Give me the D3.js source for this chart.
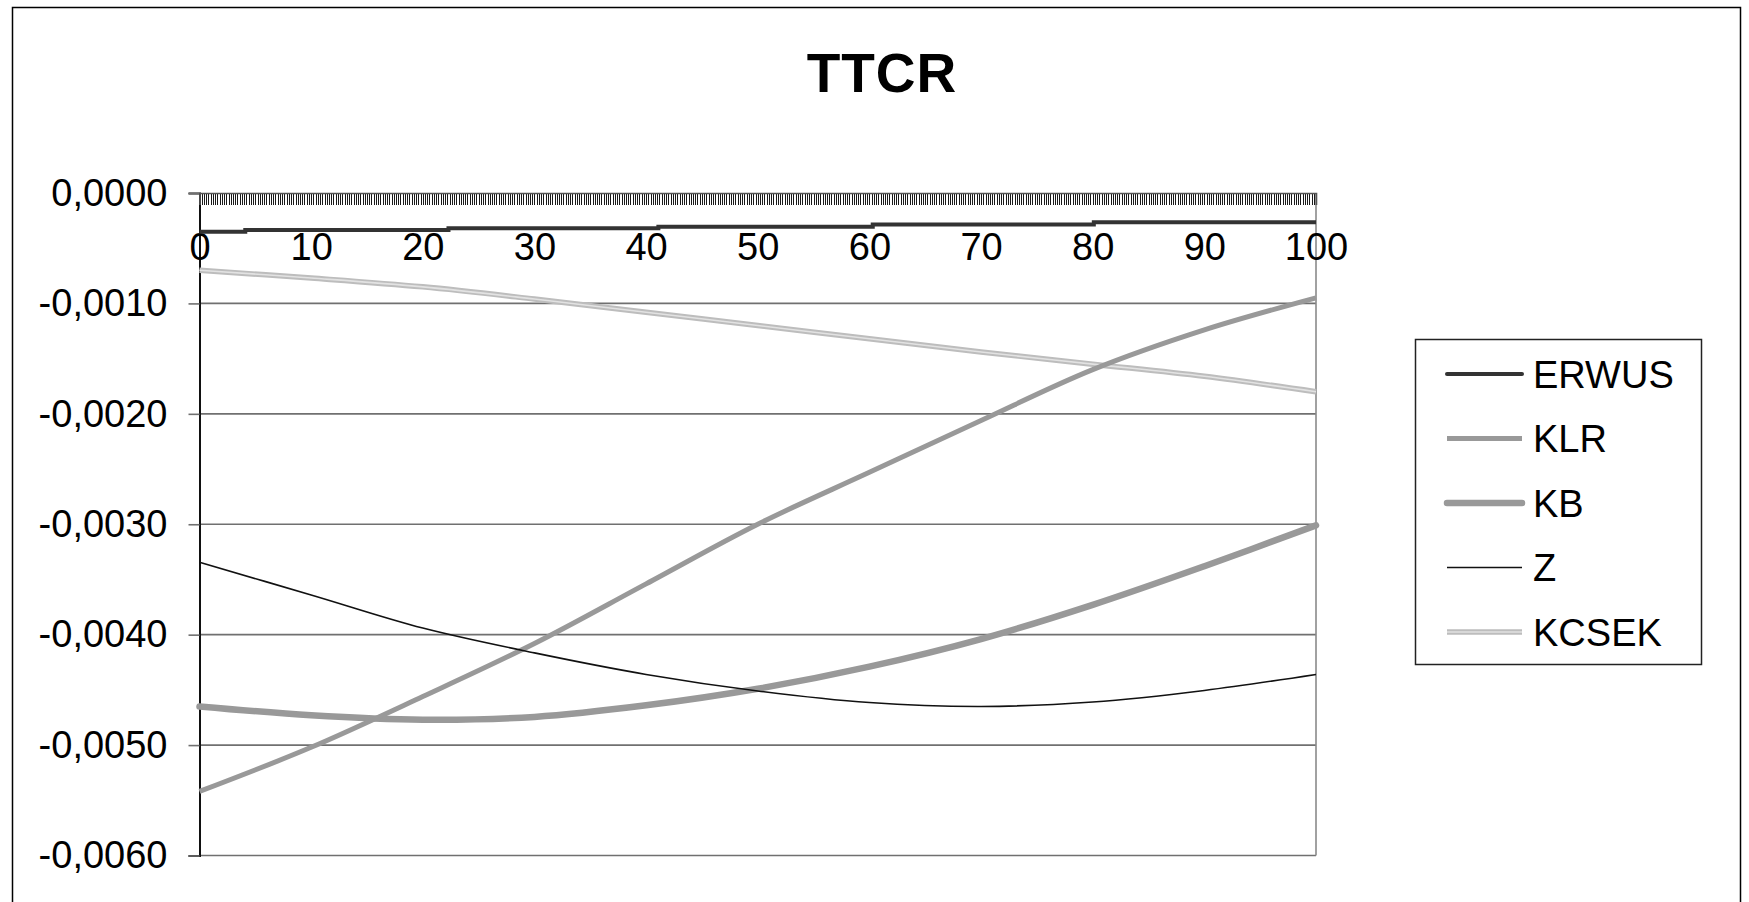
<!DOCTYPE html>
<html>
<head>
<meta charset="utf-8">
<script src="https://cdn.jsdelivr.net/npm/d3@7/dist/d3.min.js"></script>
<style>
  html, body { margin: 0; padding: 0; background: #fff; }
  svg { display: block; font-family: "Liberation Sans", Arial, sans-serif; }
</style>
</head>
<body>
<svg id="chart" width="1749" height="902"></svg>
<script>
// Series sampled along the x range
const xs       = [0, 10, 20, 30, 40, 50, 60, 70, 80, 90, 100];
const klr      = [-0.00542, -0.00502, -0.00456, -0.00408, -0.00354, -0.00300, -0.00253, -0.00206, -0.00160, -0.00124, -0.00095];
const kb       = [-0.00465, -0.00473, -0.00477, -0.004745, -0.00464, -0.00449, -0.00429, -0.00404, -0.00373, -0.00338, -0.00301];
const z        = [-0.003345, -0.00364, -0.00394, -0.004165, -0.00436, -0.00451, -0.004615, -0.00465, -0.00461, -0.004505, -0.00436];
const kcsek    = [-0.00070, -0.00077, -0.00085, -0.00096, -0.00108, -0.00120, -0.00132, -0.00144, -0.00155, -0.00166, -0.00180];
// ERWUS changes in small steps
const erwusX   = [0, 4.1, 22.3, 41.1, 60.3, 80.1, 100];
const erwusY   = [-0.00035, -0.000335, -0.00032, -0.000305, -0.000285, -0.000265, -0.000265];

const seriesNames = ["ERWUS", "KLR", "KB", "Z", "KCSEK"];
const xLabels = [0, 10, 20, 30, 40, 50, 60, 70, 80, 90, 100];
const yTicks  = [0, -0.001, -0.002, -0.003, -0.004, -0.005, -0.006];
const xMinorStep = 0.2;

const svg = d3.select("#chart");
const plot = { left: 199.5, right: 1316, top: 193, bottom: 855.5 };

const x = d3.scaleLinear().domain([0, 100]).range([plot.left, plot.right]);
const y = d3.scaleLinear().domain([-0.006, 0]).range([plot.bottom, plot.top]);

// outer chart frame
svg.append("rect")
  .attr("x", 12.5).attr("y", 7.5)
  .attr("width", 1728).attr("height", 1000)
  .attr("fill", "#fff").attr("stroke", "#000").attr("stroke-width", 1.5);

// title
svg.append("text")
  .attr("x", 882).attr("y", 92)
  .attr("text-anchor", "middle")
  .attr("font-size", 55).attr("font-weight", "bold")
  .attr("letter-spacing", 1)
  .text("TTCR");

// horizontal gridlines
svg.append("g").selectAll("line")
  .data(yTicks.filter(v => v !== 0))
  .join("line")
  .attr("x1", plot.left).attr("x2", plot.right)
  .attr("y1", d => y(d)).attr("y2", d => y(d))
  .attr("stroke", "#707070").attr("stroke-width", 1.6);

// right edge of plot area
svg.append("line")
  .attr("x1", plot.right).attr("x2", plot.right)
  .attr("y1", plot.top).attr("y2", plot.bottom)
  .attr("stroke", "#8a8a8a").attr("stroke-width", 1.6);

// y axis
const fmt = d3.format(".4f");
const yAxis = d3.axisLeft(y)
  .tickValues(yTicks)
  .tickSize(11)
  .tickPadding(21)
  .tickFormat(d => fmt(d).replace(".", ",").replace("−", "-"));
const gy = svg.append("g")
  .attr("transform", `translate(${plot.left},0)`)
  .call(yAxis);
gy.select(".domain").attr("stroke", "#111").attr("stroke-width", 2);
gy.selectAll(".tick line").attr("stroke", "#707070").attr("stroke-width", 1.6);
gy.selectAll(".tick text")
  .attr("font-size", 38).attr("fill", "#000")
  .attr("font-family", "Liberation Sans, Arial, sans-serif");

// x axis crossing at zero, dense minor ticks
const minorTicks = d3.range(0, 100 + 1e-9, xMinorStep);
const gxMinor = svg.append("g")
  .attr("transform", `translate(0,${y(0)})`)
  .call(d3.axisBottom(x).tickValues(minorTicks).tickSize(12).tickFormat(""));
gxMinor.select(".domain").remove();
gxMinor.selectAll(".tick line")
  .attr("stroke", "#1a1a1a").attr("stroke-width", 1)
  .attr("shape-rendering", "crispEdges");

const gx = svg.append("g")
  .attr("transform", `translate(0,${y(0)})`)
  .call(d3.axisBottom(x).tickValues(xLabels).tickSize(12).tickPadding(28).tickFormat(d3.format("d")));
gx.select(".domain").attr("stroke", "#555").attr("stroke-width", 1.6);
gx.selectAll(".tick line").remove();
gx.selectAll(".tick text")
  .attr("font-size", 38).attr("fill", "#000")
  .attr("font-family", "Liberation Sans, Arial, sans-serif");

// series lines
const lineSmooth = d3.line()
  .x(d => x(d[0])).y(d => y(d[1]))
  .curve(d3.curveCatmullRom.alpha(0.5));
const lineStep = d3.line()
  .x(d => x(d[0])).y(d => y(d[1]))
  .curve(d3.curveStepAfter);

const pts = arr => xs.map((v, i) => [v, arr[i]]);
const g = svg.append("g");

// KCSEK: light double-toned band
g.append("path").attr("d", lineSmooth(pts(kcsek)))
  .attr("fill", "none").attr("stroke", "#bdbdbd").attr("stroke-width", 5.5);
g.append("path").attr("d", lineSmooth(pts(kcsek)))
  .attr("fill", "none").attr("stroke", "#e2e2e2").attr("stroke-width", 1.6);

// KB
g.append("path").attr("d", lineSmooth(pts(kb)))
  .attr("fill", "none").attr("stroke", "#999").attr("stroke-width", 6.5)
  .attr("stroke-linecap", "round");

// KLR
g.append("path").attr("d", lineSmooth(pts(klr)))
  .attr("fill", "none").attr("stroke", "#999").attr("stroke-width", 5);

// Z
g.append("path").attr("d", lineSmooth(pts(z)))
  .attr("fill", "none").attr("stroke", "#111").attr("stroke-width", 1.6);

// ERWUS
g.append("path").attr("d", lineStep(erwusX.map((v, i) => [v, erwusY[i]])))
  .attr("fill", "none").attr("stroke", "#333").attr("stroke-width", 4);

// legend
const legend = svg.append("g");
legend.append("rect")
  .attr("x", 1415.5).attr("y", 339.5)
  .attr("width", 286).attr("height", 325)
  .attr("fill", "#fff").attr("stroke", "#222").attr("stroke-width", 1.5);

const legendStyles = {
  ERWUS: [{ stroke: "#333", width: 4, cap: "round" }],
  KLR:   [{ stroke: "#999", width: 5, cap: "butt" }],
  KB:    [{ stroke: "#999", width: 6.5, cap: "round" }],
  Z:     [{ stroke: "#111", width: 1.6, cap: "butt" }],
  KCSEK: [{ stroke: "#bdbdbd", width: 5.5, cap: "butt" }, { stroke: "#e2e2e2", width: 1.6, cap: "butt" }]
};
seriesNames.forEach((name, i) => {
  const cy = 374 + i * 64.5;
  legendStyles[name].forEach(s => {
    legend.append("line")
      .attr("x1", 1447).attr("x2", 1522)
      .attr("y1", cy).attr("y2", cy)
      .attr("stroke", s.stroke).attr("stroke-width", s.width)
      .attr("stroke-linecap", s.cap);
  });
  legend.append("text")
    .attr("x", 1533).attr("y", cy)
    .attr("dy", "0.36em")
    .attr("font-size", 38)
    .text(name);
});
</script>
</body>
</html>
